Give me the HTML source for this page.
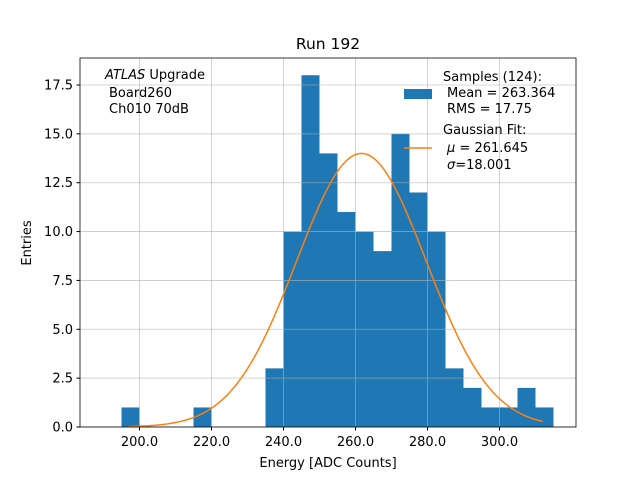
<!DOCTYPE html>
<html><head><meta charset="utf-8"><style>
body{margin:0;background:#fff}
svg text{font-family:"DejaVu Sans","Liberation Sans",sans-serif;fill:#000}
</style></head><body>
<svg width="640" height="480" viewBox="0 0 640 480">
<rect width="640" height="480" fill="#fff"/>
<g id="bars"></g>
<g id="grid"></g>
<path id="fit" fill="none" stroke="#ff7f0e" stroke-width="1.5"/>
<rect x="80" y="58" width="496" height="369" fill="none" stroke="#000" stroke-width="0.8"/>
<g id="ticks" font-size="13"></g>
<text x="328" y="49" font-size="15.5" text-anchor="middle">Run 192</text>
<text x="328" y="467" font-size="13" text-anchor="middle">Energy [ADC Counts]</text>
<text transform="translate(31,243) rotate(-90)" font-size="13" text-anchor="middle">Entries</text>
<g font-size="13" xml:space="preserve">
<text x="105" y="79"><tspan font-style="italic">ATLAS</tspan> Upgrade</text>
<text x="109" y="97">Board260</text>
<text x="109" y="113">Ch010 70dB</text>
</g>
<g font-size="13">
<rect x="404" y="89" width="28" height="10" fill="#1f77b4"/>
<text x="443" y="81">Samples (124):</text>
<text x="447" y="97">Mean = 263.364</text>
<text x="447" y="113">RMS = 17.75</text>
<line x1="404" y1="148" x2="432" y2="148" stroke="#ff7f0e" stroke-width="1.5"/>
<text x="443" y="134">Gaussian Fit:</text>
<text x="447" y="152"><tspan font-style="italic">μ</tspan> = 261.645</text>
<text x="447" y="169"><tspan font-style="italic">σ</tspan>=18.001</text>
</g>
</svg>
<script>
const binLefts=[195,215,235,240,245,250,255,260,265,270,275,280,285,290,295,300,305,310];
const counts=[1,1,3,10,18,14,11,10,9,15,12,10,3,2,1,1,2,1];
const binWidth=5;
const xTicks=[200,220,240,260,280,300];
const yTicks=[0,2.5,5,7.5,10,12.5,15,17.5];
const fitMu=261.645, fitSigma=18.001, fitAmp=14, fitMin=197, fitMax=312;
const X=v=>139.5+(v-200)*3.6;
const Y=v=>427-v*19.543;
const NS='http://www.w3.org/2000/svg';
const bars=document.getElementById('bars');
binLefts.forEach((b,i)=>{
  const r=document.createElementNS(NS,'rect');
  r.setAttribute('x',X(b));r.setAttribute('width',X(b+binWidth)-X(b));
  r.setAttribute('y',Y(counts[i]));r.setAttribute('height',Y(0)-Y(counts[i]));
  r.setAttribute('fill','#1f77b4');
  
  
  bars.appendChild(r);
});
const grid=document.getElementById('grid'),ticks=document.getElementById('ticks');
xTicks.forEach(t=>{
  const l=document.createElementNS(NS,'line');
  l.setAttribute('x1',X(t));l.setAttribute('x2',X(t));l.setAttribute('y1',58);l.setAttribute('y2',427);
  l.setAttribute('stroke','#b0b0b0');l.setAttribute('stroke-width','0.8');l.setAttribute('opacity','0.7');
  
  
  grid.appendChild(l);
  const k=document.createElementNS(NS,'line');
  k.setAttribute('x1',X(t));k.setAttribute('x2',X(t));k.setAttribute('y1',427);k.setAttribute('y2',430.5);k.setAttribute('stroke','#000');
  ticks.appendChild(k);
  const tx=document.createElementNS(NS,'text');
  tx.setAttribute('x',X(t));tx.setAttribute('y',446);tx.setAttribute('text-anchor','middle');
  
  
  tx.textContent=t.toFixed(1);ticks.appendChild(tx);
});
yTicks.forEach(t=>{
  const l=document.createElementNS(NS,'line');
  l.setAttribute('x1',80);l.setAttribute('x2',576);l.setAttribute('y1',Y(t));l.setAttribute('y2',Y(t));
  l.setAttribute('stroke','#b0b0b0');l.setAttribute('stroke-width','0.8');l.setAttribute('opacity','0.7');
  
  
  grid.appendChild(l);
  const k=document.createElementNS(NS,'line');
  k.setAttribute('x1',76.5);k.setAttribute('x2',80);k.setAttribute('y1',Y(t));k.setAttribute('y2',Y(t));k.setAttribute('stroke','#000');
  ticks.appendChild(k);
  const tx=document.createElementNS(NS,'text');
  tx.setAttribute('x',73);tx.setAttribute('y',Y(t)+4.5);tx.setAttribute('text-anchor','end');
  
  
  tx.textContent=t.toFixed(1);ticks.appendChild(tx);
});
let d='';
for(let i=0;i<=200;i++){
  const v=fitMin+(fitMax-fitMin)*i/200;
  const y=fitAmp*Math.exp(-0.5*((v-fitMu)/fitSigma)**2);
  d+=(i?'L':'M')+X(v).toFixed(2)+' '+Y(y).toFixed(2);
}
document.getElementById('fit').setAttribute('d',d);
</script>
</body></html>
